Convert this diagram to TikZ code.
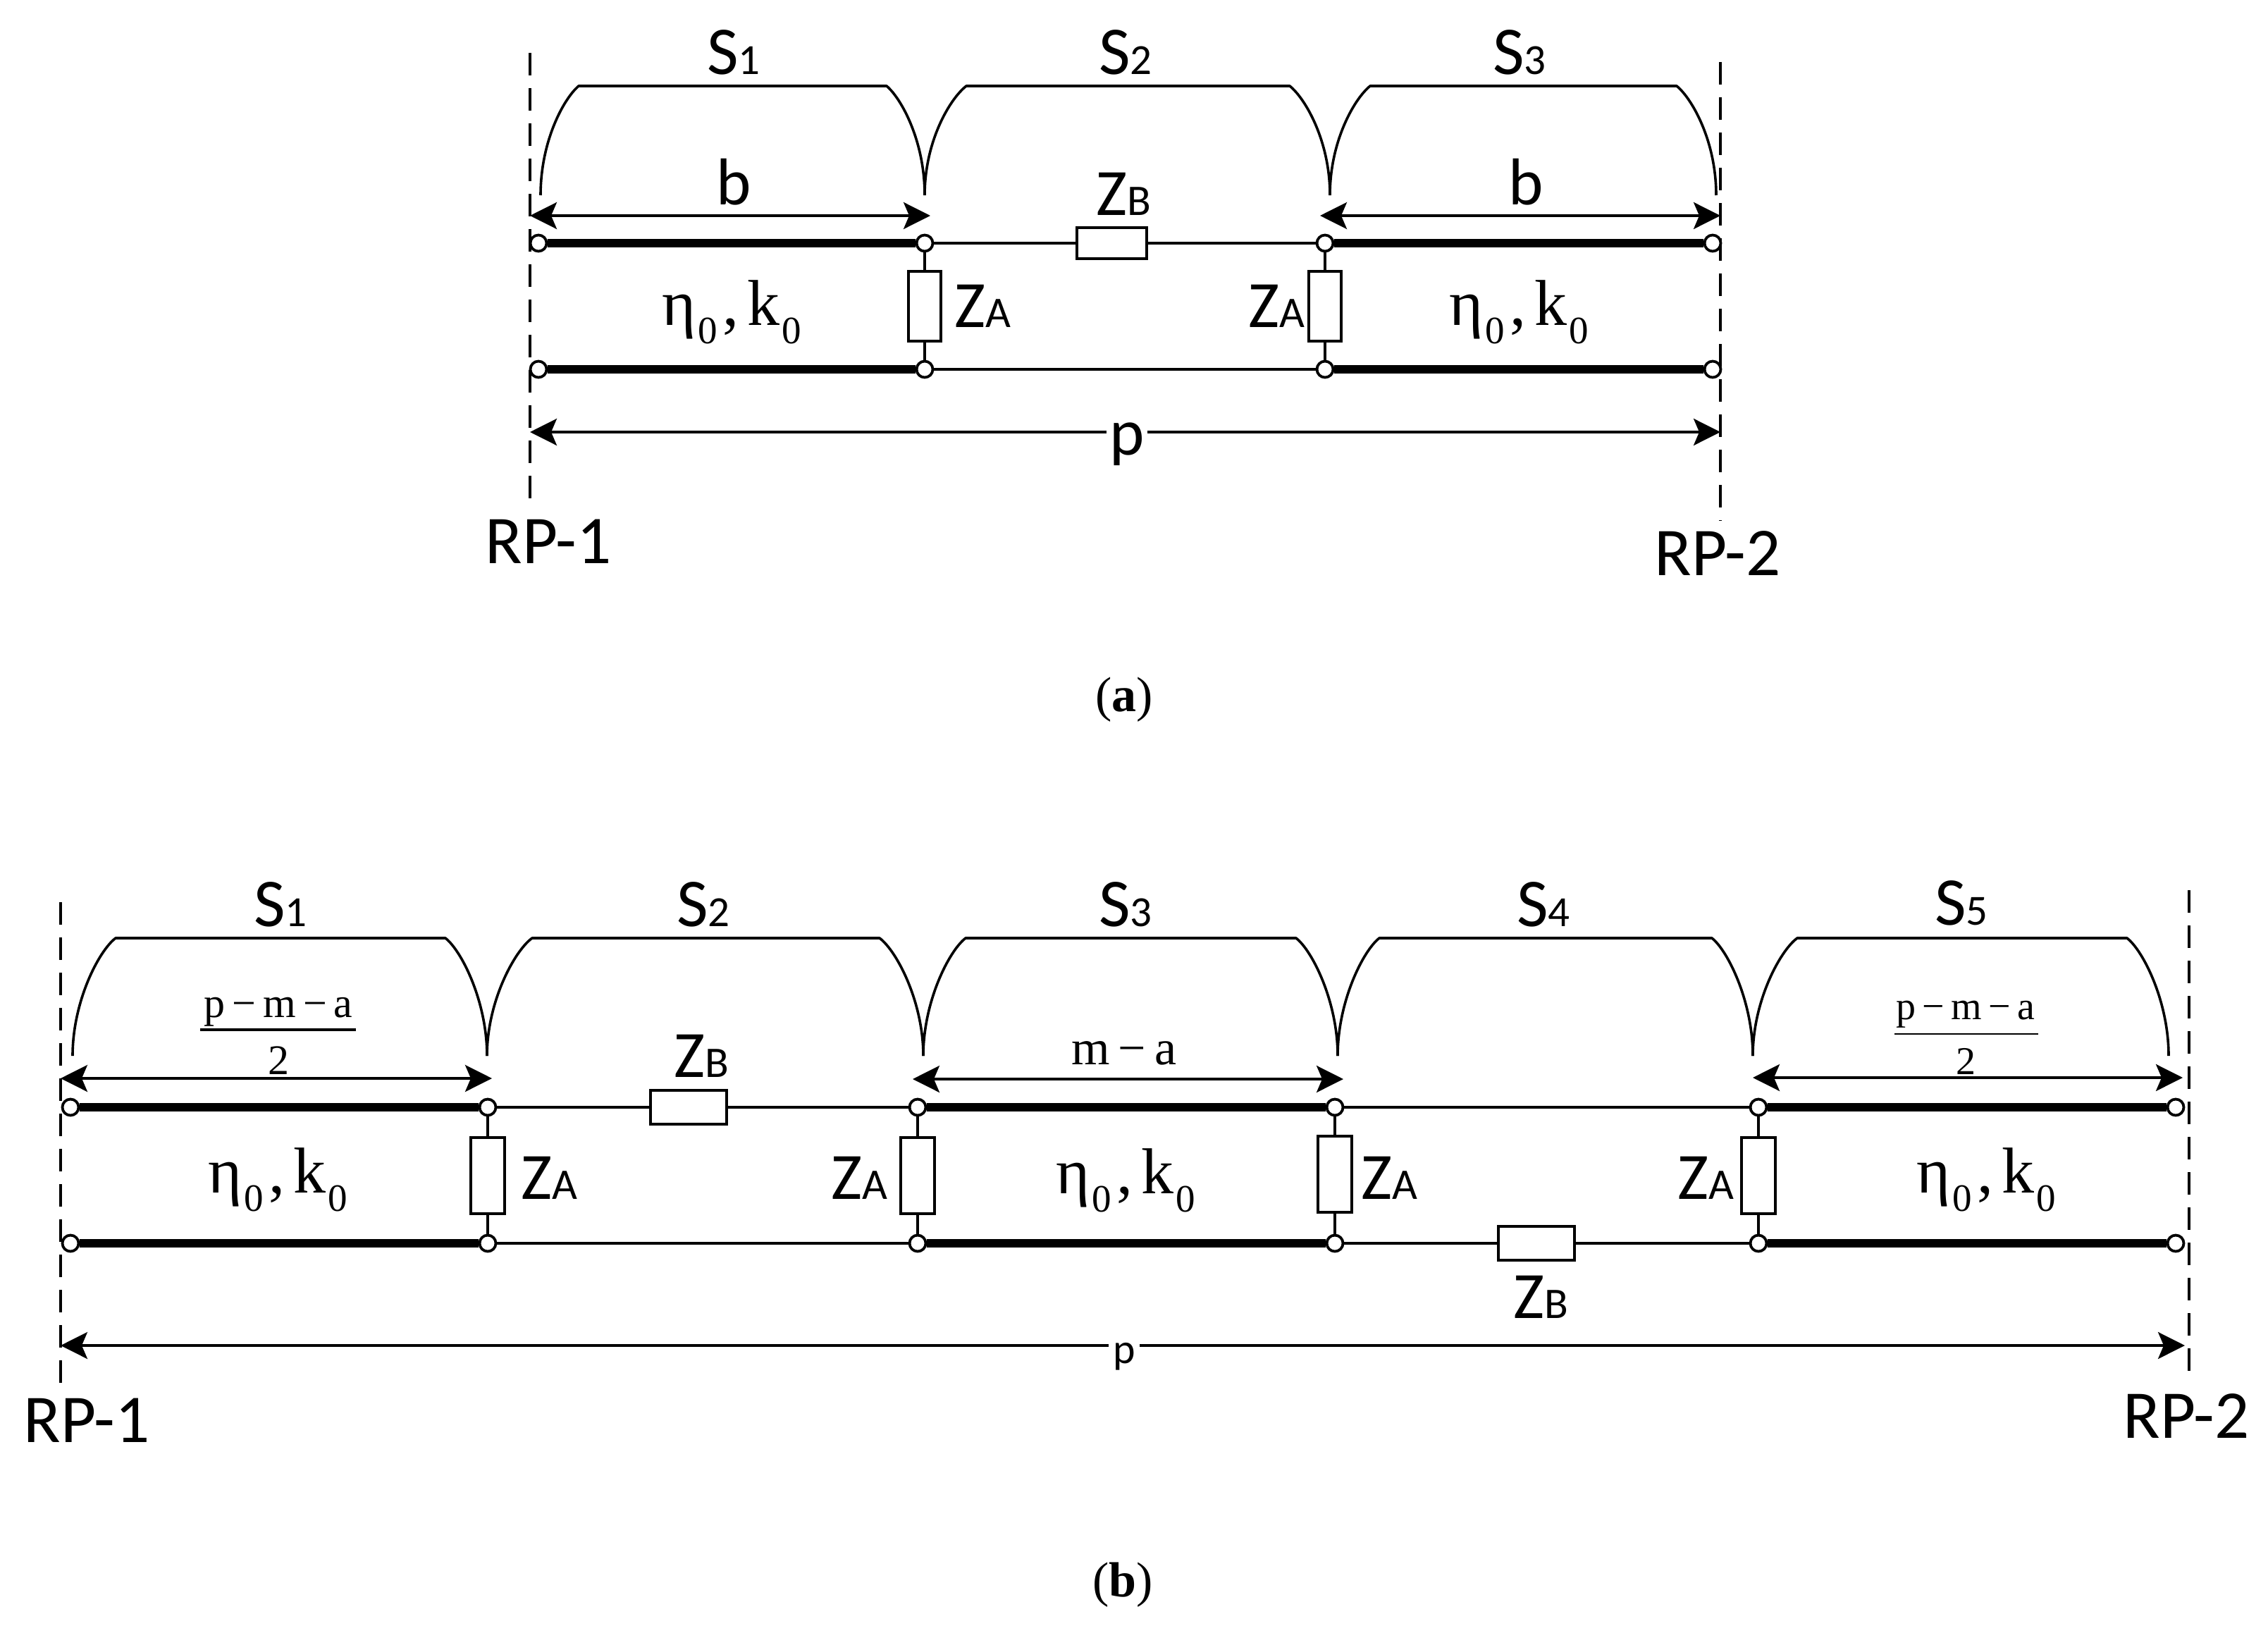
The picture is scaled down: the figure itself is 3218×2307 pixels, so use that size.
\documentclass[tikz,border=0pt]{standalone}
\usepackage{fontspec}
\setmainfont{Carlito}
\newfontfamily\tmsfont{Liberation Serif}
\usetikzlibrary{arrows.meta}
\newcommand{\subfa}[1]{{\fontsize{30.5}{31}\selectfont #1}}
\newcommand{\subfb}[1]{{\fontsize{31}{32}\selectfont #1}}
\newcommand{\etak}{{\tmsfont η\kern1.5pt\raisebox{-13pt}{\fontsize{27.5}{29}\selectfont 0}\kern3.5pt,\kern6pt k\kern1.5pt\raisebox{-13pt}{\fontsize{27.5}{29}\selectfont 0}}}
\newcommand{\brk}[6]{\draw[bracketline] (#1,#6) .. controls (#1,{#6-77}) and ({#2-0.39*(#2-#1)},{#5+18}) .. (#2,#5) -- (#3,#5) .. controls ({#3+0.39*(#4-#3)},{#5+18}) and (#4,{#6-77}) .. (#4,#6);}
\tikzset{
  x=0.5pt,y=-0.5pt,
  term/.style={circle,draw=black,fill=white,line width=1.9pt,minimum size=11.5pt,inner sep=0pt},
  thick line/.style={line width=6.3pt,line cap=butt},
  thin line/.style={line width=1.7pt},
  shunt line/.style={line width=1.9pt},
  zbox/.style={rectangle,draw=black,fill=white,line width=1.9pt,inner sep=0pt},
  zvert a/.style={zbox,minimum width=22.7pt,minimum height=49.7pt},
  zvert b/.style={zbox,minimum width=23.7pt,minimum height=54.2pt},
  zhor a/.style={zbox,minimum width=49.7pt,minimum height=22.2pt},
  zhor b/.style={zbox,minimum width=53.7pt,minimum height=24.2pt},
  bracketline/.style={line width=1.8pt,line join=round},
  dashline/.style={line width=2pt,dash pattern=on 16pt off 9pt},
  dimarrow/.style={line width=1.8pt,{Stealth[length=19pt,width=19pt,inset=4pt]}-{Stealth[length=19pt,width=19pt,inset=4pt]}},
  slabel/.style={anchor=base,inner sep=0pt,font=\fontsize{48.5}{50}\selectfont},
  zlabel/.style={anchor=base,inner sep=0pt,font=\fontsize{47}{50}\selectfont},
  etalabel/.style={anchor=base,inner sep=0pt,font=\fontsize{46}{48}\selectfont},
  plabel/.style={anchor=base,inner sep=2pt,fill=white,font=\fontsize{47}{50}\selectfont},
  psmall/.style={anchor=base,inner sep=3pt,fill=white,font=\fontsize{30}{32}\selectfont},
  fraclabel/.style={anchor=base,inner sep=0pt,font=\tmsfont\fontsize{30}{32}\selectfont},
  caption/.style={anchor=base,inner sep=0pt,font=\tmsfont\fontsize{35}{38}\selectfont},
}
\begin{document}
\begin{tikzpicture}
\useasboundingbox (0,0) rectangle (3218,2307);
\fill[white] (0,0) rectangle (3218,2307);

% ---------- panel (a) ----------
\coordinate (ad1a) at (752,75);
\coordinate (ad1b) at (752,724);
\coordinate (ad2a) at (2441,88);
\coordinate (ad2b) at (2441,739);
\draw[dashline] (ad1a) -- (ad1b);
\draw[dashline] (ad2a) -- (ad2b);

\brk{767}{821}{1258}{1312}{122}{277}
\brk{1312}{1371}{1830}{1887}{122}{277}
\brk{1887}{1944}{2379}{2435}{122}{277}

\node[slabel] (as1) at (1041,106) {S\subfa{1}};
\node[slabel] (as2) at (1597,106) {S\subfa{2}};
\node[slabel] (as3) at (2156,106) {S\subfa{3}};
\node[zlabel] (ab1) at (1041,290) {b};
\node[zlabel] (ab2) at (2165,290) {b};

\coordinate (aal) at (752,306);
\coordinate (aam) at (1320,306);
\coordinate (acl) at (1873,306);
\coordinate (acm) at (2441,306);
\draw[dimarrow] (aal) -- (aam);
\draw[dimarrow] (acl) -- (acm);

\node[term] (a1t) at (764,345) {};
\node[term] (a2t) at (1312,345) {};
\node[term] (a3t) at (1880,345) {};
\node[term] (a4t) at (2430,345) {};
\node[term] (a1d) at (764,524) {};
\node[term] (a2d) at (1312,524) {};
\node[term] (a3d) at (1880,524) {};
\node[term] (a4d) at (2430,524) {};
\node[zhor a] (azb) at (1577.5,345) {};
\node[zvert a] (aza1) at (1312,434.5) {};
\node[zvert a] (aza2) at (1880,434.5) {};

\draw[thick line] (a1t) -- (a2t);
\draw[thick line] (a3t) -- (a4t);
\draw[thick line] (a1d) -- (a2d);
\draw[thick line] (a3d) -- (a4d);
\draw[thin line] (a2t) -- (azb);
\draw[thin line] (azb) -- (a3t);
\draw[thin line] (a2d) -- (a3d);
\draw[shunt line] (a2t) -- (aza1);
\draw[shunt line] (aza1) -- (a2d);
\draw[shunt line] (a3t) -- (aza2);
\draw[shunt line] (aza2) -- (a3d);

\node[zlabel] (azbl) at (1594,305) {Z\subfb{B}};
\node[zlabel] (azal1) at (1394,464) {Z\subfb{A}};
\node[zlabel] (azal2) at (1811,464) {Z\subfb{A}};
\node[etalabel] (aeta1) at (1038,461) {\etak};
\node[etalabel] (aeta2) at (2155,461) {\etak};

\coordinate (apl) at (752,613);
\coordinate (apr) at (2441,613);
\draw[dimarrow] (apl) -- (apr);
\node[plabel] (ap) at (1599,645) {p};
\node[slabel] (arp1) at (778,799) {RP-1};
\node[slabel] (arp2) at (2437,816) {RP-2};
\node[caption] (acap) at (1595,1009) {(\textbf{a})};

% ---------- panel (b) ----------
\coordinate (bd1a) at (86,1280);
\coordinate (bd1b) at (86,1978);
\coordinate (bd2a) at (3106,1263);
\coordinate (bd2b) at (3106,1959);
\draw[dashline] (bd1a) -- (bd1b);
\draw[dashline] (bd2a) -- (bd2b);

\brk{103}{164}{632}{691}{1331}{1498}
\brk{691}{755}{1248}{1310}{1331}{1498}
\brk{1310}{1370}{1839}{1898}{1331}{1498}
\brk{1898}{1957}{2429}{2487}{1331}{1498}
\brk{2487}{2550}{3018}{3077}{1331}{1498}

\node[slabel] (bs1) at (398,1314) {S\subfa{1}};
\node[slabel] (bs2) at (998,1314) {S\subfa{2}};
\node[slabel] (bs3) at (1597,1314) {S\subfa{3}};
\node[slabel] (bs4) at (2190,1314) {S\subfa{4}};
\node[slabel] (bs5) at (2783,1312) {S\subfa{5}};

\node[fraclabel] (bf1n) at (395,1443) {p\,−\,m\,−\,a};
\coordinate (bf1a) at (284,1461);
\coordinate (bf1b) at (505,1461);
\draw[line width=1.6pt] (bf1a) -- (bf1b);
\node[fraclabel] (bf1d) at (395,1524) {2};
\node[fraclabel,font=\tmsfont\fontsize{28}{30}\selectfont] (bf2n) at (2789,1446) {p\,−\,m\,−\,a};
\coordinate (bf2a) at (2688,1467);
\coordinate (bf2b) at (2892,1467);
\draw[line width=1.1pt] (bf2a) -- (bf2b);
\node[fraclabel,font=\tmsfont\fontsize{28}{30}\selectfont] (bf2d) at (2789,1524) {2};
\node[fraclabel,font=\tmsfont\fontsize{35}{37}\selectfont] (bma) at (1595,1510) {m\,−\,a};

\coordinate (baa) at (86,1530);
\coordinate (bab) at (698,1530);
\coordinate (bca) at (1295,1531);
\coordinate (bcb) at (1906,1531);
\coordinate (bea) at (2487,1529);
\coordinate (beb) at (3097,1529);
\draw[dimarrow] (baa) -- (bab);
\draw[dimarrow] (bca) -- (bcb);
\draw[dimarrow] (bea) -- (beb);

\node[term] (b1t) at (100,1571) {};
\node[term] (b2t) at (692,1571) {};
\node[term] (b3t) at (1302,1571) {};
\node[term] (b4t) at (1894,1571) {};
\node[term] (b5t) at (2495,1571) {};
\node[term] (b6t) at (3087,1571) {};
\node[term] (b1d) at (100,1764) {};
\node[term] (b2d) at (692,1764) {};
\node[term] (b3d) at (1302,1764) {};
\node[term] (b4d) at (1894,1764) {};
\node[term] (b5d) at (2495,1764) {};
\node[term] (b6d) at (3087,1764) {};
\node[zhor b] (bzb1) at (977,1571) {};
\node[zhor b] (bzb2) at (2180,1764) {};
\node[zvert b] (bza1) at (692,1668) {};
\node[zvert b] (bza2) at (1302,1668) {};
\node[zvert b] (bza3) at (1894,1666) {};
\node[zvert b] (bza4) at (2495,1668) {};

\draw[thick line] (b1t) -- (b2t);
\draw[thin line] (b2t) -- (bzb1);
\draw[thin line] (bzb1) -- (b3t);
\draw[thick line] (b3t) -- (b4t);
\draw[thin line] (b4t) -- (b5t);
\draw[thick line] (b5t) -- (b6t);
\draw[thick line] (b1d) -- (b2d);
\draw[thin line] (b2d) -- (b3d);
\draw[thick line] (b3d) -- (b4d);
\draw[thin line] (b4d) -- (bzb2);
\draw[thin line] (bzb2) -- (b5d);
\draw[thick line] (b5d) -- (b6d);
\draw[shunt line] (b2t) -- (bza1);
\draw[shunt line] (bza1) -- (b2d);
\draw[shunt line] (b3t) -- (bza2);
\draw[shunt line] (bza2) -- (b3d);
\draw[shunt line] (b4t) -- (bza3);
\draw[shunt line] (bza3) -- (b4d);
\draw[shunt line] (b5t) -- (bza4);
\draw[shunt line] (bza4) -- (b5d);

\node[zlabel] (bzbl1) at (995,1528) {Z\subfb{B}};
\node[zlabel] (bzbl2) at (2186,1870) {Z\subfb{B}};
\node[zlabel] (bzal1) at (779,1701) {Z\subfb{A}};
\node[zlabel] (bzal2) at (1219,1701) {Z\subfb{A}};
\node[zlabel] (bzal3) at (1971,1701) {Z\subfb{A}};
\node[zlabel] (bzal4) at (2420,1701) {Z\subfb{A}};
\node[etalabel] (beta1) at (394,1692) {\etak};
\node[etalabel] (beta2) at (1597,1693) {\etak};
\node[etalabel] (beta3) at (2818,1692) {\etak};

\coordinate (bpl) at (86,1909);
\coordinate (bpr) at (3100,1909);
\draw[dimarrow] (bpl) -- (bpr);
\node[psmall] (bp) at (1595,1934) {p};
\node[slabel] (brp1) at (123,2046) {RP-1};
\node[slabel] (brp2) at (3102,2040) {RP-2};
\node[caption] (bcap) at (1593,2265) {(\textbf{b})};
\end{tikzpicture}
\end{document}
